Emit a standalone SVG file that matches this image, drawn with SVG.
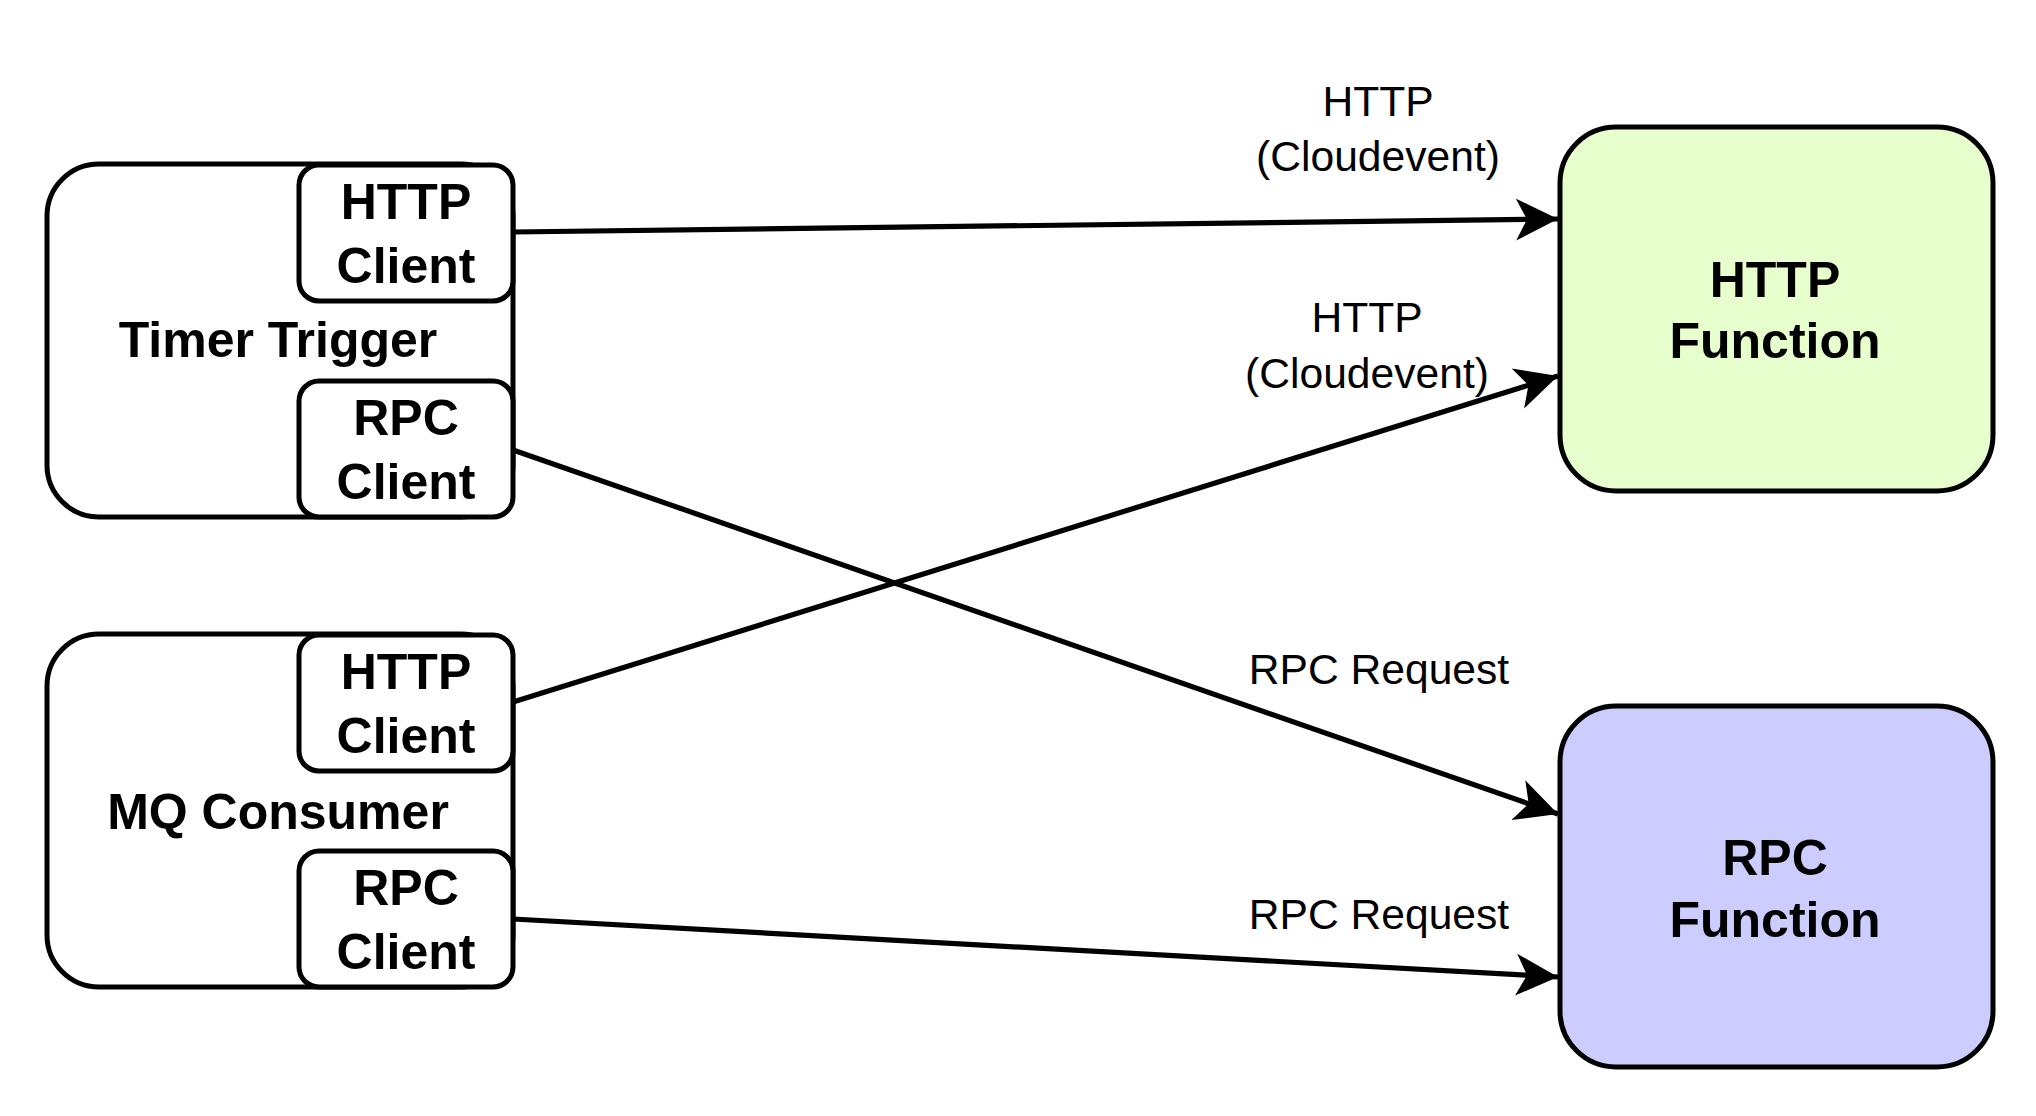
<svg xmlns="http://www.w3.org/2000/svg" width="2036" height="1116" viewBox="0 0 2036 1116">
<style>
.box{fill:#ffffff;stroke:#000000;stroke-width:5}
.green{fill:#e6ffcc}
.blue{fill:#ccccff}
.t{font-family:"Liberation Sans",Arial,Helvetica,sans-serif;font-weight:bold;font-size:50px;fill:#000;text-anchor:middle}
.l{font-family:"Liberation Sans",Arial,Helvetica,sans-serif;font-size:42.6px;fill:#000;text-anchor:middle}
.edge{fill:none;stroke:#000;stroke-width:5.2}
</style>
<defs>
<marker id="arr" markerUnits="userSpaceOnUse" viewBox="0 -22 44 44" refX="42" refY="0" markerWidth="44" markerHeight="44" orient="auto">
<path d="M0,-21 L42,0 L0,21 L11,0 Z" fill="#000"/>
</marker>
</defs>
<rect width="2036" height="1116" fill="#ffffff"/>
<g id="timer-trigger">
<rect class="box" x="47" y="164" width="466" height="353" rx="52"/>
<text class="t" x="278" y="357">Timer Trigger</text>
</g>
<g id="timer-http-client">
<rect class="box" x="299" y="165" width="214" height="136" rx="20"/>
<text class="t" x="406" y="219">HTTP</text>
<text class="t" x="406" y="283">Client</text>
</g>
<g id="timer-rpc-client">
<rect class="box" x="299" y="381" width="214" height="136" rx="20"/>
<text class="t" x="406" y="435">RPC</text>
<text class="t" x="406" y="499">Client</text>
</g>
<g id="mq-consumer">
<rect class="box" x="47" y="634" width="466" height="353" rx="52"/>
<text class="t" x="278" y="829">MQ Consumer</text>
</g>
<g id="mq-http-client">
<rect class="box" x="299" y="635" width="214" height="136" rx="20"/>
<text class="t" x="406" y="689">HTTP</text>
<text class="t" x="406" y="753">Client</text>
</g>
<g id="mq-rpc-client">
<rect class="box" x="299" y="851" width="214" height="136" rx="20"/>
<text class="t" x="406" y="905">RPC</text>
<text class="t" x="406" y="969">Client</text>
</g>
<g id="http-function">
<rect class="box green" x="1560" y="127" width="433" height="364" rx="56"/>
<text class="t" x="1775" y="297">HTTP</text>
<text class="t" x="1775" y="358">Function</text>
</g>
<g id="rpc-function">
<rect class="box blue" x="1560" y="706" width="433" height="361" rx="56"/>
<text class="t" x="1775" y="875">RPC</text>
<text class="t" x="1775" y="937">Function</text>
</g>
<g id="connectors">
<line class="edge" x1="513" y1="232" x2="1558" y2="219" marker-end="url(#arr)"/>
<line class="edge" x1="513" y1="450" x2="1558" y2="814" marker-end="url(#arr)"/>
<line class="edge" x1="513" y1="702" x2="1558" y2="376" marker-end="url(#arr)"/>
<line class="edge" x1="513" y1="919" x2="1558" y2="977" marker-end="url(#arr)"/>
<text class="l" x="1378" y="116">HTTP</text>
<text class="l" x="1378" y="171">(Cloudevent)</text>
<text class="l" x="1367" y="332">HTTP</text>
<text class="l" x="1367" y="388">(Cloudevent)</text>
<text class="l" x="1379" y="684">RPC Request</text>
<text class="l" x="1379" y="929">RPC Request</text>
</g>
</svg>
